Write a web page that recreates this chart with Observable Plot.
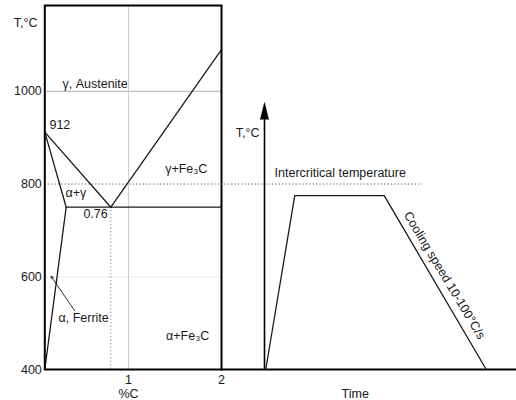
<!DOCTYPE html>
<html>
<head>
<meta charset="utf-8">
<script src="https://cdn.jsdelivr.net/npm/d3@7"></script>
<script src="https://cdn.jsdelivr.net/npm/@observablehq/plot@0.6"></script>
<style>
  html, body { margin: 0; padding: 0; background: white; }
  #wrap { position: relative; width: 516px; height: 400px; }
  #wrap svg { position: absolute; left: 0; top: 0; }
</style>
</head>
<body>
<div id="wrap"></div>
<script>
// ---------- data: Fe–C phase diagram (left panel) ----------
const carbonDomain = [0.1, 2];
const tempDomain = [400, 1185];
const yTicks = [400, 600, 800, 1000];
const xTicks = [1, 2];

const a3Line = [{c: 0.1, t: 912}, {c: 0.81, t: 750}];
const ferriteLine = [{c: 0.1, t: 912}, {c: 0.33, t: 750}, {c: 0.1, t: 400}];
const acmLine = [{c: 0.81, t: 750}, {c: 2, t: 1090}];
const eutectoidLine = [{c: 0.33, t: 750}, {c: 2, t: 750}];
const eutectoidC = 0.81;
const eutectoidT = 750;
const interT = 800;

const phaseLabels = [
  {c: 0.29, t: 1015, label: "γ, Austenite"},
  {c: 0.15, t: 928, label: "912"},
  {c: 1.394, t: 833, label: "γ+Fe₃C"},
  {c: 0.322, t: 781, label: "α+γ"},
  {c: 0.515, t: 736, label: "0.76"},
  {c: 0.247, t: 510, label: "α, Ferrite"},
  {c: 1.404, t: 473, label: "α+Fe₃C"}
];
const leader = [{c1: 0.42, t1: 527, c2: 0.168, t2: 601}];

// ---------- data: heat-treatment cycle (right panel) ----------
const timeDomain = [0, 100];
const cycleTime = [0.5, 12, 47.5, 88];
const cycleTemp = [400, 775, 775, 400];
const cycle = cycleTime.map((x, i) => ({time: x, temp: cycleTemp[i]}));
const axisTop = 939;

const font = {fontFamily: "'Liberation Sans', Arial, Helvetica, sans-serif", fontSize: "12.5px"};
const ink = "#1a1a1a";

const left = Plot.plot({
  width: 516, height: 400,
  marginLeft: 44.3, marginRight: 295, marginTop: 5, marginBottom: 31,
  style: {...font, background: "white", color: ink},
  x: {domain: carbonDomain, label: null},
  y: {domain: tempDomain, label: null},
  marks: [
    Plot.ruleY([600], {stroke: "#e8e8e8", strokeWidth: 1}),
    Plot.ruleY([1000], {stroke: "#b0b0b0", strokeWidth: 1}),
    Plot.ruleX([1], {stroke: "#cfcfcf", strokeWidth: 1}),
    Plot.ruleX([eutectoidC], {y1: 400, y2: eutectoidT, stroke: "#999", strokeDasharray: "1.5,2"}),
    Plot.ruleY([interT], {stroke: "#555", strokeDasharray: "1.2,2.2"}),
    Plot.line(a3Line, {x: "c", y: "t", stroke: ink, strokeWidth: 1.3}),
    Plot.line(ferriteLine, {x: "c", y: "t", stroke: ink, strokeWidth: 1.3}),
    Plot.line(acmLine, {x: "c", y: "t", stroke: ink, strokeWidth: 1.3}),
    Plot.line(eutectoidLine, {x: "c", y: "t", stroke: ink, strokeWidth: 1.3}),
    Plot.arrow(leader, {x1: "c1", y1: "t1", x2: "c2", y2: "t2", stroke: ink, strokeWidth: 0.9, headLength: 4}),
    Plot.text(phaseLabels, {x: "c", y: "t", text: "label", textAnchor: "start", fill: ink}),
    Plot.text(["T,°C"], {frameAnchor: "top-left", dx: -31, dy: 13, textAnchor: "start", fill: ink}),
    Plot.text(["%C"], {x: [1], y: [400], dy: 24, fill: ink}),
    Plot.frame({stroke: "black", strokeWidth: 2}),
    Plot.axisX({ticks: xTicks, tickFormat: "d", tickSize: 0, tickPadding: 6, label: null, fill: ink}),
    Plot.axisY({ticks: yTicks, tickFormat: "d", tickSize: 0, tickPadding: 3, label: null, fill: ink})
  ]
});

const right = Plot.plot({
  width: 516, height: 400,
  marginLeft: 264, marginRight: 0, marginTop: 5, marginBottom: 31,
  style: {...font, background: "none", overflow: "visible", color: ink},
  x: {domain: timeDomain, axis: null},
  y: {domain: tempDomain, axis: null},
  marks: [
    Plot.ruleY([interT], {x1: -17.1, x2: 62.7, stroke: "#555", strokeDasharray: "1.2,2.2"}),
    Plot.ruleY([400], {x1: -17.1, x2: 100, stroke: "black", strokeWidth: 2}),
    Plot.ruleX([0], {y1: 400, y2: axisTop, stroke: "black", strokeWidth: 1.6}),
    Plot.vector([0], {x: 0, y: axisTop, length: 17, r: 4.2, shape: "spike", anchor: "start", fill: "black", stroke: "black", strokeWidth: 0.5}),
    Plot.line(cycle, {x: "time", y: "temp", stroke: ink, strokeWidth: 1.3}),
    Plot.text(["T,°C"], {x: 0, y: 909, dx: -5, textAnchor: "end", fill: ink}),
    Plot.text(["Intercritical temperature"], {x: 4, y: 823, textAnchor: "start", fill: ink}),
    Plot.text(["Cooling speed 10-100°C/s"], {x: 71.4, y: 603, rotate: 59, fill: ink}),
    Plot.text(["Time"], {x: [36], y: [400], dy: 24, fill: ink})
  ]
});

const wrap = document.getElementById("wrap");
wrap.appendChild(left);
wrap.appendChild(right);
</script>
</body>
</html>
